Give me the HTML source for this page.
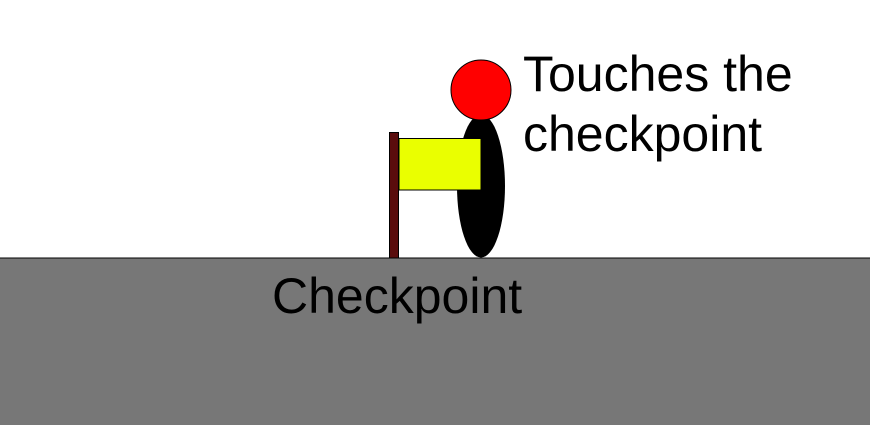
<!DOCTYPE html>
<html><head><meta charset="utf-8"><style>html,body{margin:0;padding:0;background:#fff;width:870px;height:425px;overflow:hidden}</style></head>
<body>
<svg width="870" height="425" viewBox="0 0 870 425" style="display:block;font-family:'Liberation Sans',sans-serif">
<rect x="-1" y="258" width="872" height="170" fill="#777777" stroke="#000" stroke-width="1"/>
<ellipse cx="481" cy="186" rx="24" ry="71.5" fill="#000"/>
<rect x="389.5" y="132.5" width="9" height="125.5" fill="#5a0c0c" stroke="#000" stroke-width="1"/>
<rect x="399" y="138.5" width="82" height="51.5" fill="#eaff00" stroke="#000" stroke-width="1"/>
<circle cx="481" cy="90" r="30" fill="#ff0000" stroke="#000" stroke-width="1"/>
<text x="523" y="91" font-size="50" fill="#000">Touches the</text>
<text x="523" y="151" font-size="50" fill="#000">checkpoint</text>
<text x="272" y="313" font-size="50" fill="#000">Checkpoint</text>
</svg>
</body></html>
